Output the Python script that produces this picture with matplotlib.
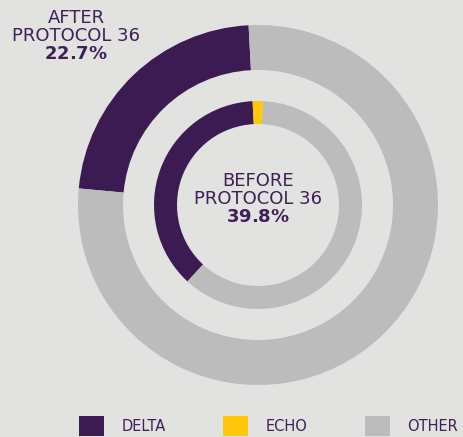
import matplotlib.pyplot as plt
from matplotlib.patches import Patch

# ── data ─────────────────────────────────────────────
categories = ["DELTA", "ECHO", "OTHER"]
after_vals = [22.7, 0.0, 77.3]      # outer ring
before_vals = [37.3, 1.6, 61.1]     # inner ring (as drawn)
after_label = ["AFTER", "PROTOCOL 36", "22.7%"]
before_label = ["BEFORE", "PROTOCOL 36", "39.8%"]

# ── style ────────────────────────────────────────────
BG = "#e2e2e1"
PURPLE = "#3c1b52"
YELLOW = "#fec70b"
GRAY = "#bcbcbc"
TXT = "#3e1f56"
colors = dict(zip(categories, [PURPLE, YELLOW, GRAY]))

W, H = 463, 437
fig = plt.figure(figsize=(W / 100, H / 100), dpi=100, facecolor=BG)
ax = fig.add_axes([0, 0, 1, 1])
ax.set_facecolor(BG)

cx, cy = 258, H - 205


def ring(vals, radius, width):
    # order drawn counter-clockwise: DELTA, OTHER, ECHO
    order = [0, 2, 1]
    ax.pie([vals[i] for i in order], colors=[colors[categories[i]] for i in order],
           startangle=93, counterclock=True, radius=radius, center=(cx, cy),
           wedgeprops=dict(width=width, linewidth=0), frame=True)


ring(after_vals, 180, 45)
ring(before_vals, 104, 23)

ax.set_xlim(0, W)
ax.set_ylim(0, H)
ax.set_aspect("equal")
ax.axis("off")


def block(lines):
    # one text object; last line bold via mathtext
    pct = lines[2].replace("%", r"\%")
    return f"{lines[0]}\n{lines[1]}\n" + r"$\mathbf{" + pct + "}$"


fs = 13
ax.text(cx, H - 199, block(before_label), ha="center", va="center",
        fontsize=fs, color=TXT, linespacing=0.98)
ax.text(76, H - 36, block(after_label), ha="center", va="center",
        fontsize=fs, color=TXT, linespacing=0.98)

handles = [Patch(facecolor=colors[c], edgecolor="none") for c in categories]
fig.legend(handles, categories, loc="upper left", ncol=3, frameon=False,
           bbox_to_anchor=(79 / W, 1 - 416 / H), borderpad=0, borderaxespad=0,
           fontsize=10.5, labelcolor=TXT, handlelength=1.71, handleheight=1.71,
           handletextpad=1.23, columnspacing=3.9)

fig.savefig("out.png", dpi=100, facecolor=BG)
